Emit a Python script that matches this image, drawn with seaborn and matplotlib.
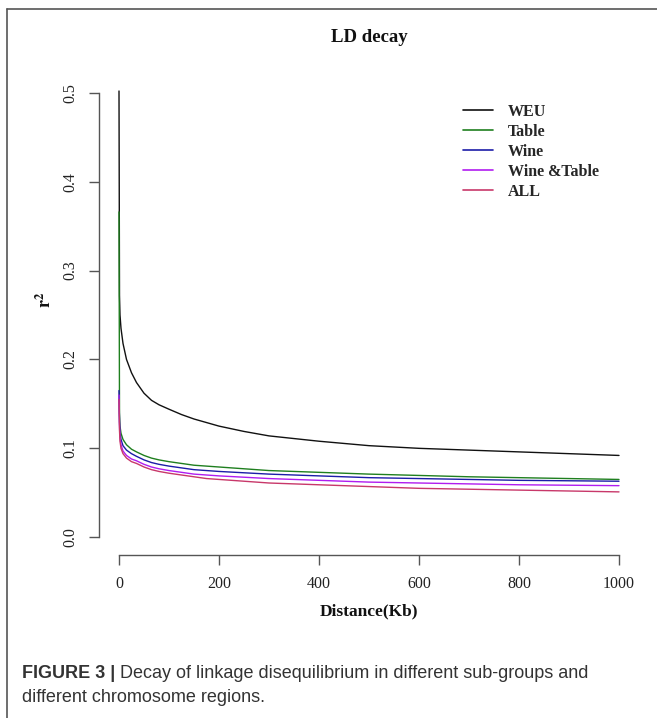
import numpy as np
import pandas as pd
import matplotlib
matplotlib.use("Agg")
import matplotlib.pyplot as plt
from matplotlib.lines import Line2D
import seaborn as sns

# ---- data ----
distance_kb = [0, 1, 2, 4, 8, 15, 25, 35, 50, 65, 80, 100, 125, 150, 175, 200, 250, 300, 400, 500,
               600, 700, 800, 900, 1000]
r2_weu = [0.502, 0.272, 0.250, 0.235, 0.218, 0.200, 0.185, 0.174, 0.162, 0.154, 0.149, 0.144, 0.138,
          0.133, 0.129, 0.125, 0.119, 0.114, 0.108, 0.103, 0.100, 0.098, 0.096, 0.094, 0.092]
r2_table = [0.366, 0.140, 0.125, 0.117, 0.110, 0.104, 0.099, 0.096, 0.092, 0.089, 0.087, 0.085, 0.083,
            0.081, 0.080, 0.079, 0.077, 0.075, 0.073, 0.071, 0.0695, 0.068, 0.067, 0.066, 0.065]
r2_wine = [0.165, 0.130, 0.118, 0.110, 0.103, 0.098, 0.094, 0.091, 0.087, 0.084, 0.082, 0.080, 0.078,
           0.076, 0.075, 0.074, 0.0725, 0.071, 0.069, 0.067, 0.066, 0.065, 0.064, 0.0635, 0.063]
r2_wine_table = [0.160, 0.125, 0.112, 0.104, 0.097, 0.092, 0.088, 0.086, 0.082, 0.079, 0.077, 0.075,
                 0.073, 0.071, 0.070, 0.069, 0.0675, 0.066, 0.064, 0.062, 0.061, 0.060, 0.059,
                 0.0585, 0.058]
r2_all = [0.155, 0.120, 0.108, 0.100, 0.094, 0.089, 0.085, 0.083, 0.079, 0.076, 0.074, 0.072, 0.070,
          0.068, 0.066, 0.065, 0.063, 0.061, 0.059, 0.057, 0.055, 0.054, 0.053, 0.052, 0.051]

groups = ["WEU", "Table", "Wine", "Wine &Table", "ALL"]
colors = ["#111111", "#1f7f1f", "#1c1ca8", "#b01cf0", "#c8386a"]
x_ticks = [0, 200, 400, 600, 800, 1000]
y_ticks = [0.0, 0.1, 0.2, 0.3, 0.4, 0.5]

series = [r2_weu, r2_table, r2_wine, r2_wine_table, r2_all]
frames = []
for g, vals in zip(groups, series):
    frames.append(pd.DataFrame({"distance": distance_kb, "r2": vals, "group": g}))
df = pd.concat(frames, ignore_index=True)

sns.set_theme(style="white")
plt.rcParams["font.family"] = ["Liberation Serif", "DejaVu Serif"]
plt.rcParams["mathtext.fontset"] = "stix"

W, H = 657, 718
fig = plt.figure(figsize=(W / 100, H / 100), dpi=100)
ax = fig.add_axes([99 / W, 1 - 555 / H, 540 / W, 480 / H])

sns.lineplot(data=df, x="distance", y="r2", hue="group", hue_order=groups,
             palette=dict(zip(groups, colors)), estimator=None, sort=False,
             linewidth=1.0, ax=ax, legend=False)

ax.set_xlim(-40, 1040)
ax.set_ylim(-0.02, 0.52)
ax.set_xticks(x_ticks)
ax.set_xticklabels([str(t) for t in x_ticks])
ax.set_yticks(y_ticks)
ax.set_yticklabels([f"{t:.1f}" for t in y_ticks], rotation=90, va="center")
ax.set_xlabel("")
ax.set_ylabel("")
axis_col = "#555555"
for s in ["top", "right"]:
    ax.spines[s].set_visible(False)
ax.spines["left"].set_bounds(0, 0.5)
ax.spines["bottom"].set_bounds(0, 1000)
for s in ["left", "bottom"]:
    ax.spines[s].set_color(axis_col)
    ax.spines[s].set_linewidth(1.0)
ax.tick_params(axis="both", which="both", direction="out", length=7, width=1.0,
               color=axis_col, labelsize=11.5, labelcolor="#222222", pad=8,
               left=True, bottom=True)
ax.grid(False)

# legend
handles = [Line2D([0], [0], color=c, lw=1.2) for c in colors]
leg = fig.legend(handles, groups, loc="upper left", bbox_to_anchor=(463 / W, 1 - 104 / H),
                 frameon=False, handlelength=1.9, handletextpad=0.9, labelspacing=0.25,
                 borderpad=0, borderaxespad=0,
                 prop={"family": "Liberation Serif", "weight": "bold", "size": 11.5})

# titles and labels
fig.text(369 / W, 1 - 37 / H, "LD decay", ha="center", va="center",
         fontsize=13.5, fontweight="bold", color="#111111")
fig.text(369 / W, 1 - 611 / H, "Distance(Kb)", ha="center", va="center",
         fontsize=12.5, fontweight="bold", color="#111111")
fig.text(45 / W, 1 - 300 / H, r"$\mathbf{r}^{\mathbf{2}}$", ha="center", va="center",
         rotation=90, fontsize=13, color="#111111")

# border of the figure panel
fig.add_artist(Line2D([7 / W, 7 / W], [0, 1 - 9 / H], transform=fig.transFigure,
                      color="#555555", lw=1.2))
fig.add_artist(Line2D([7 / W, 1], [1 - 9 / H, 1 - 9 / H], transform=fig.transFigure,
                      color="#555555", lw=1.2))

# caption
cap_col = "#333333"
cap_font = ["Liberation Sans", "DejaVu Sans"]
t1 = fig.text(22 / W, 1 - 673 / H, "FIGURE 3 | ", ha="left", va="center", fontsize=13,
              fontweight="bold", family=cap_font, color=cap_col)
fig.canvas.draw()
bb = t1.get_window_extent(renderer=fig.canvas.get_renderer())
fig.text(bb.x1 / W, 1 - 673 / H, "Decay of linkage disequilibrium in different sub-groups and",
         ha="left", va="center", fontsize=13, family=cap_font, color=cap_col)
fig.text(22 / W, 1 - 698 / H, "different chromosome regions.", ha="left", va="center",
         fontsize=13, family=cap_font, color=cap_col)

fig.savefig("out.png", dpi=100, facecolor="white")
